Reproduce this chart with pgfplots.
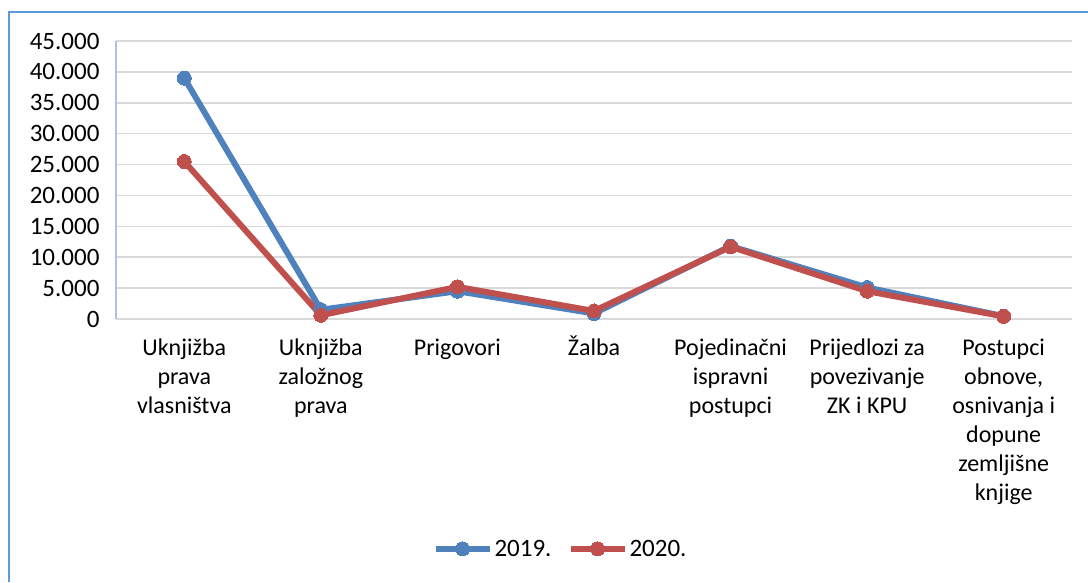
\documentclass[border=0pt]{standalone}
\usepackage{fontspec}
\setmainfont{Carlito}
\usepackage{pgfplots}
\pgfplotsset{compat=1.18}
\definecolor{s19}{HTML}{4F81BD}
\definecolor{s20}{HTML}{C0504D}
\definecolor{gridc}{HTML}{D9D9D9}
\definecolor{framec}{HTML}{5B9BD5}
\definecolor{yaxc}{HTML}{A9C4E4}

\begin{document}
\begin{tikzpicture}
\useasboundingbox (-116pt,-263pt) rectangle (972pt,319pt);
\begin{axis}[
    at={(0pt,0pt)}, anchor=south west,
    scale only axis, width=956pt, height=278pt,
    xmin=-0.5, xmax=6.5, ymin=0, ymax=45000,
    xtick={0,...,6},
    xticklabels={
        {Uknjižba\\prava\\vlasništva},
        {Uknjižba\\založnog\\prava},
        {Prigovori},
        {\smash{Ž}alba},
        {Pojedinačni\\ispravni\\postupci},
        {Prijedlozi za\\povezivanje\\ZK i KPU},
        {Postupci\\obnove,\\osnivanja i\\dopune\\zemljišne\\knjige}},
    ytick={0,5000,...,45000},
    scaled y ticks=false,
    /pgf/number format/1000 sep={.},
    /pgf/number format/assume math mode=true,
    axis lines*=left,
    axis line style={-},
    x axis line style={draw=none},
    y axis line style={yaxc, line width=1.2pt},
    ymajorgrids, grid style={gridc, line width=1.6pt},
    major tick length=0pt,
    xticklabel style={font=\fontsize{24}{29}\selectfont, text=black,
        align=center, anchor=north, yshift=-16pt},
    yticklabel style={font=\fontsize{25}{29}\selectfont, text=black,
        xshift=-13pt},
    legend style={at={(0.465,-0.827)}, anchor=center, draw=none,
        legend columns=2, font=\fontsize{25}{29}\selectfont,
        /tikz/every even column/.append style={column sep=14pt}},
    legend image code/.code={
        \draw[mark repeat=2, mark phase=2, #1]
        plot coordinates {(0pt,0pt) (27pt,0pt) (54pt,0pt)};},
]
\addplot[s19, line width=6pt, mark=*, mark size=7pt,
    mark options={fill=s19, draw=s19, line width=0pt}] coordinates {
    (0,39000) (1,1500) (2,4500) (3,900) (4,11800) (5,5100) (6,450)
};
\addlegendentry{2019.}
\addplot[s20, line width=6pt, mark=*, mark size=7pt,
    mark options={fill=s20, draw=s20, line width=0pt}] coordinates {
    (0,25500) (1,600) (2,5200) (3,1300) (4,11700) (5,4500) (6,420)
};
\addlegendentry{2020.}
\end{axis}
\draw[framec, line width=1.5pt] (-107pt,-263pt) -- (-107pt,307pt) -- (972pt,307pt);
\end{tikzpicture}
\end{document}
